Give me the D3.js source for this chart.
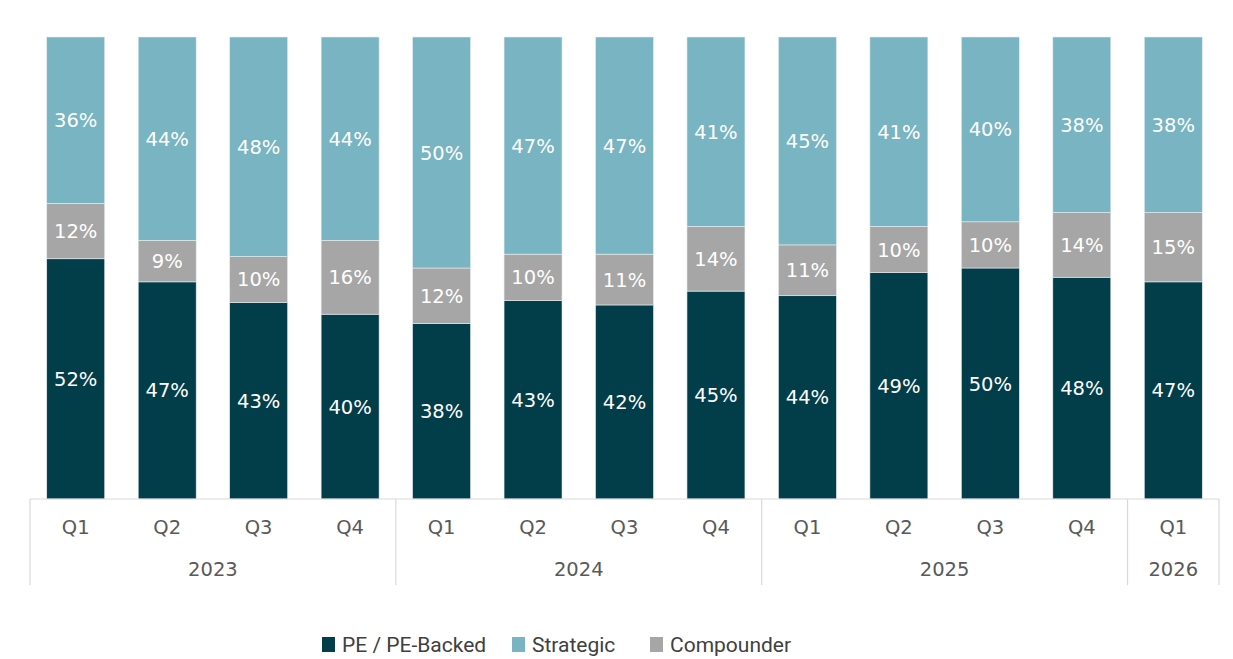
<!DOCTYPE html>
<html>
<head>
<meta charset="utf-8">
<script src="https://cdn.jsdelivr.net/npm/d3@7"></script>
<style>
  body { margin: 0; background: #ffffff; }
  svg { display: block; }
</style>
</head>
<body>
<svg id="chart"></svg>
<script>
// data
const quarters = ['Q1','Q2','Q3','Q4','Q1','Q2','Q3','Q4','Q1','Q2','Q3','Q4','Q1'];
const years = ['2023','2023','2023','2023','2024','2024','2024','2024','2025','2025','2025','2025','2026'];
const peBacked = [52, 47, 43, 40, 38, 43, 42, 45, 44, 49, 50, 48, 47];
const compounder = [12, 9, 10, 16, 12, 10, 11, 14, 11, 10, 10, 14, 15];
const strategic = [36, 44, 48, 44, 50, 47, 47, 41, 45, 41, 40, 38, 38];
const seriesNames = ['PE / PE-Backed', 'Compounder', 'Strategic'];
const legendOrder = ['PE / PE-Backed', 'Strategic', 'Compounder'];

const colors = {
    'PE / PE-Backed': '#023d4a',
    'Strategic': '#78b4c2',
    'Compounder': '#a6a6a6'
};

const width = 1233, height = 659;
const margin = {top: 37, right: 14, bottom: 160, left: 30};
const innerW = width - margin.left - margin.right;
const innerH = height - margin.top - margin.bottom;
const labelFont = '"DejaVu Sans", "Noto Sans", sans-serif';

const svg = d3.select('#chart')
    .attr('width', width)
    .attr('height', height);

const chart = svg.append('g')
    .attr('transform', `translate(${margin.left}, ${margin.top})`);

// rows for stacking (100% stacked)
const rows = quarters.map((q, i) => ({
    key: i,
    'PE / PE-Backed': peBacked[i],
    'Compounder': compounder[i],
    'Strategic': strategic[i]
}));

const stack = d3.stack()
    .keys(seriesNames)
    .offset(d3.stackOffsetExpand);
const stacked = stack(rows);

const xscale = d3.scaleBand()
    .domain(d3.range(quarters.length))
    .range([0, innerW])
    .paddingInner(0.366)
    .paddingOuter(0.183);

const yscale = d3.scaleLinear()
    .domain([0, 1])
    .range([innerH, 0]);

const layers = chart.selectAll('.layer')
    .data(stacked)
    .join('g')
    .attr('class', 'layer')
    .attr('fill', d => colors[d.key]);

layers.selectAll('rect')
    .data(d => d)
    .join('rect')
    .attr('x', d => xscale(d.data.key))
    .attr('y', d => yscale(d[1]))
    .attr('width', xscale.bandwidth())
    .attr('height', d => yscale(d[0]) - yscale(d[1]))
    .attr('stroke', '#e8eef0')
    .attr('stroke-width', 0.6);

// value labels
layers.selectAll('text')
    .data(d => d.map(v => ({v, key: d.key})))
    .join('text')
    .attr('x', d => xscale(d.v.data.key) + xscale.bandwidth() / 2)
    .attr('y', d => (yscale(d.v[0]) + yscale(d.v[1])) / 2)
    .attr('dy', '0.36em')
    .attr('text-anchor', 'middle')
    .attr('fill', '#ffffff')
    .style('font-family', labelFont)
    .style('font-size', '19.5px')
    .text(d => d.v.data[d.key] + '%');

// x axis
const axisColor = '#d9d9d9';
chart.append('line')
    .attr('x1', 0).attr('x2', innerW)
    .attr('y1', innerH).attr('y2', innerH)
    .attr('stroke', axisColor).attr('stroke-width', 1.2);

chart.selectAll('.qlabel')
    .data(quarters)
    .join('text')
    .attr('class', 'qlabel')
    .attr('x', (d, i) => xscale(i) + xscale.bandwidth() / 2)
    .attr('y', innerH + 35)
    .attr('text-anchor', 'middle')
    .attr('fill', '#595959')
    .style('font-family', labelFont)
    .style('font-size', '19.5px')
    .text(d => d);

// year groups
const step = xscale.step();
const groups = d3.groups(years.map((y, i) => ({y, i})), d => d.y)
    .map(([y, items]) => ({
        y,
        x0: items[0].i * step,
        x1: (items[items.length - 1].i + 1) * step
    }));

const sepX = [0].concat(groups.map(g => g.x1));
chart.selectAll('.sep')
    .data(sepX)
    .join('line')
    .attr('class', 'sep')
    .attr('x1', d => d).attr('x2', d => d)
    .attr('y1', innerH).attr('y2', innerH + 86)
    .attr('stroke', axisColor).attr('stroke-width', 1.2);

chart.selectAll('.ylabel')
    .data(groups)
    .join('text')
    .attr('class', 'ylabel')
    .attr('x', d => (d.x0 + d.x1) / 2)
    .attr('y', innerH + 77)
    .attr('text-anchor', 'middle')
    .attr('fill', '#595959')
    .style('font-family', labelFont)
    .style('font-size', '19.5px')
    .text(d => d.y);

// legend
const legend = svg.append('g')
    .attr('transform', 'translate(322, 645)');
const legendX = [0, 190, 328];
const items = legend.selectAll('g')
    .data(legendOrder)
    .join('g')
    .attr('transform', (d, i) => `translate(${legendX[i]}, 0)`);
items.append('rect')
    .attr('x', 0).attr('y', -8)
    .attr('width', 13).attr('height', 15)
    .attr('fill', d => colors[d]);
items.append('text')
    .attr('x', 20)
    .attr('y', 0)
    .attr('dy', '0.35em')
    .attr('fill', '#404040')
    .style('font-family', 'Roboto, sans-serif')
    .style('font-size', '21px')
    .text(d => d);
</script>
</body>
</html>
